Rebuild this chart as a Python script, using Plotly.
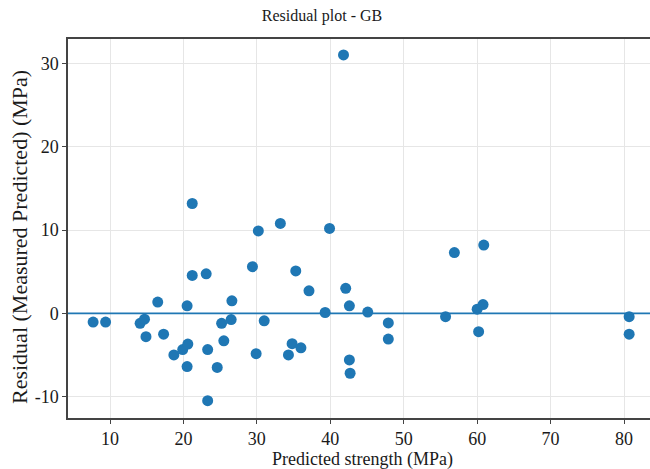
import plotly.graph_objects as go

predicted = [7.7, 9.4, 14.1, 14.7, 14.9, 16.5, 17.3, 18.7, 19.9, 20.6, 20.5, 20.5,
             21.2, 21.2, 23.1, 23.3, 23.3, 24.6, 25.2, 25.5, 26.5, 26.6, 29.4, 29.9,
             30.2, 31.0, 33.2, 35.3, 37.1, 34.8, 36.0, 34.3, 39.9, 39.3, 41.8, 42.1,
             42.6, 45.1, 42.6, 42.7, 47.9, 47.9, 55.7, 56.9, 60.9, 60.0, 60.8, 60.2,
             80.7, 80.7]
residual = [-1.05, -1.05, -1.2, -0.7, -2.8, 1.35, -2.5, -5.0, -4.35, -3.7, -6.4, 0.9,
            13.2, 4.55, 4.75, -4.35, -10.5, -6.5, -1.2, -3.3, -0.75, 1.5, 5.6, -4.85,
            9.9, -0.9, 10.8, 5.1, 2.7, -3.65, -4.15, -5.0, 10.2, 0.1, 31.05, 3.0,
            0.9, 0.15, -5.6, -7.2, -1.15, -3.1, -0.4, 7.3, 8.2, 0.5, 1.05, -2.2,
            -0.4, -2.5]

x_range = [4.28, 83.54]
y_range = [-12.58, 32.97]
x_ticks = [10, 20, 30, 40, 50, 60, 70, 80]
y_ticks = [-10, 0, 10, 20, 30]

title_text = "Residual plot - GB"
x_title = "Predicted strength (MPa)"
y_title = "Residual (Measured Predicted) (MPa)"

blue = "#1f77b4"
font_family = "Liberation Serif, Times New Roman, serif"
text_color = "#1a1a1a"

fig = go.Figure()
fig.add_trace(go.Scatter(
    x=predicted, y=residual, mode="markers",
    marker=dict(color=blue, size=11, line=dict(width=0)),
    showlegend=False,
))
fig.add_shape(type="line", xref="paper", yref="y", x0=0, x1=1, y0=0, y1=0,
              line=dict(color=blue, width=1.6))

W, H = 650, 469
L, R, T, B = 68, 0, 39, 51
plot_h = H - T - B

fig.update_layout(
    width=W, height=H,
    margin=dict(l=L, r=R, t=T, b=B),
    paper_bgcolor="white", plot_bgcolor="white",
    font=dict(family=font_family, color=text_color),
    title=dict(text=title_text, x=(322) / W, xanchor="center",
               y=1 - 15 / H, yanchor="middle",
               font=dict(family=font_family, size=16, color=text_color)),
)
# axis titles as annotations for precise placement
fig.add_annotation(text=x_title, xref="paper", yref="paper",
                   x=(362 - L) / (W - L - R), y=-(459 - (H - B)) / plot_h,
                   xanchor="center", yanchor="middle", showarrow=False,
                   font=dict(size=18, family=font_family, color=text_color))
fig.add_annotation(text=y_title, xref="paper", yref="paper",
                   x=0, xshift=19 - L, y=((H - B) - 237) / plot_h,
                   xanchor="center", yanchor="middle", textangle=-90, showarrow=False,
                   font=dict(size=22, family=font_family, color=text_color))

fig.update_xaxes(
    range=x_range, tickvals=x_ticks, ticktext=[str(v) for v in x_ticks],
    showgrid=True, gridcolor="#e6e6e6", gridwidth=1,
    showline=True, linecolor="#444", linewidth=1.5, mirror=True,
    ticks="outside", ticklen=4, tickcolor="#444",
    tickfont=dict(size=18, family=font_family, color=text_color),
    zeroline=False, automargin=False,
)
fig.update_yaxes(
    range=y_range, tickvals=y_ticks, ticktext=[str(v) for v in y_ticks],
    showgrid=True, gridcolor="#e6e6e6", gridwidth=1,
    showline=True, linecolor="#444", linewidth=1.5, mirror=False,
    ticks="outside", ticklen=4, tickcolor="#444",
    tickfont=dict(size=18, family=font_family, color=text_color),
    zeroline=False, automargin=False,
)

fig.write_html("out.html", config={"displayModeBar": False},
               post_script="document.body.style.margin='0';")
